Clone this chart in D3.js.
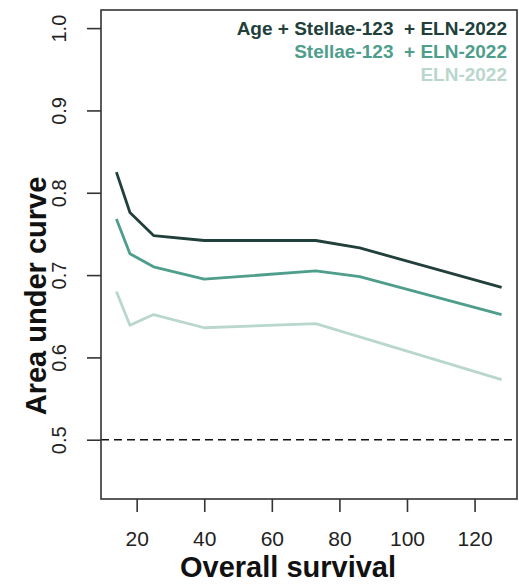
<!DOCTYPE html>
<html>
<head>
<meta charset="utf-8">
<script src="https://cdn.jsdelivr.net/npm/d3@7"></script>
<style>
  body { margin: 0; background: #fff; }
  text { font-family: "Liberation Sans", Arial, sans-serif; }
</style>
</head>
<body>
<div id="app"></div>
<script>
const months = [14, 18, 25, 40, 73, 86, 128];
const seriesNames = ["Age + Stellae-123  + ELN-2022", "Stellae-123  + ELN-2022", "ELN-2022"];
const aucFull = [0.825, 0.776, 0.748, 0.742, 0.742, 0.733, 0.685];
const aucStellae = [0.768, 0.726, 0.710, 0.695, 0.705, 0.698, 0.652];
const aucEln = [0.680, 0.639, 0.652, 0.636, 0.641, 0.625, 0.573];
const xTicks = [20, 40, 60, 80, 100, 120];
const yTicks = [0.5, 0.6, 0.7, 0.8, 0.9, 1.0];
const colors = ["#213f3b", "#4f9e8c", "#b9d7cc"];

const width = 519;
const height = 588;
const plotLeft = 101, plotRight = 517, plotTop = 10, plotBottom = 499;

// R-style 4% padding around the data / ylim
const xPad = (months[months.length - 1] - months[0]) * 0.04;
const xScale = d3.scaleLinear()
  .domain([months[0] - xPad, months[months.length - 1] + xPad])
  .range([plotLeft, plotRight]);
const yScale = d3.scaleLinear()
  .domain([0.45 - 0.022, 1.0 + 0.022])
  .range([plotBottom, plotTop]);

const svg = d3.select("#app").append("svg")
  .attr("width", width)
  .attr("height", height);

// dashed reference line
svg.append("line")
  .attr("x1", plotLeft).attr("x2", plotRight)
  .attr("y1", yScale(0.5)).attr("y2", yScale(0.5))
  .attr("stroke", "#111")
  .attr("stroke-width", 1.5)
  .attr("stroke-dasharray", "8,5");

const line = d3.line()
  .x(d => xScale(d[0]))
  .y(d => yScale(d[1]));

[aucEln, aucStellae, aucFull].forEach((vals, i) => {
  svg.append("path")
    .datum(months.map((m, j) => [m, vals[j]]))
    .attr("fill", "none")
    .attr("stroke", colors[2 - i])
    .attr("stroke-width", 2.8)
    .attr("stroke-linejoin", "round")
    .attr("d", line);
});

// box
svg.append("rect")
  .attr("x", plotLeft).attr("y", plotTop)
  .attr("width", plotRight - plotLeft).attr("height", plotBottom - plotTop)
  .attr("fill", "none")
  .attr("stroke", "#333")
  .attr("stroke-width", 1.6);

const xAxis = svg.append("g")
  .attr("transform", `translate(0, ${plotBottom})`)
  .call(d3.axisBottom(xScale).tickValues(xTicks).tickSize(13).tickPadding(19).tickSizeOuter(0));
xAxis.select(".domain").remove();
xAxis.selectAll(".tick line").attr("stroke", "#333").attr("stroke-width", 1.6);
xAxis.selectAll(".tick text")
  .attr("font-size", 21)
  .attr("fill", "#222")
  .attr("font-family", "Liberation Sans, Arial, sans-serif");

const yAxis = svg.append("g")
  .attr("transform", `translate(${plotLeft}, 0)`)
  .call(d3.axisLeft(yScale).tickValues(yTicks).tickSize(14).tickFormat(d3.format(".1f")).tickSizeOuter(0));
yAxis.select(".domain").remove();
yAxis.selectAll(".tick line").attr("stroke", "#333").attr("stroke-width", 1.6);
yAxis.selectAll(".tick text")
  .attr("font-size", 20)
  .attr("fill", "#222")
  .attr("font-family", "Liberation Sans, Arial, sans-serif")
  .attr("x", null).attr("dy", null)
  .attr("text-anchor", "middle")
  .attr("transform", `translate(${66 - plotLeft}, 0) rotate(-90)`);

// axis titles
svg.append("text")
  .attr("x", 288).attr("y", 577)
  .attr("text-anchor", "middle")
  .attr("font-size", 29)
  .attr("font-weight", "bold")
  .attr("fill", "#111")
  .text("Overall survival");

svg.append("text")
  .attr("transform", `translate(46, 296) rotate(-90)`)
  .attr("text-anchor", "middle")
  .attr("font-size", 29)
  .attr("font-weight", "bold")
  .attr("fill", "#111")
  .text("Area under curve");

// legend
svg.append("g")
  .selectAll("text")
  .data(seriesNames)
  .join("text")
  .attr("x", 507)
  .attr("y", (d, i) => 34.5 + i * 23.3)
  .attr("text-anchor", "end")
  .attr("font-size", 19)
  .attr("font-weight", "bold")
  .style("white-space", "pre")
  .attr("fill", (d, i) => colors[i])
  .text(d => d);
</script>
</body>
</html>
